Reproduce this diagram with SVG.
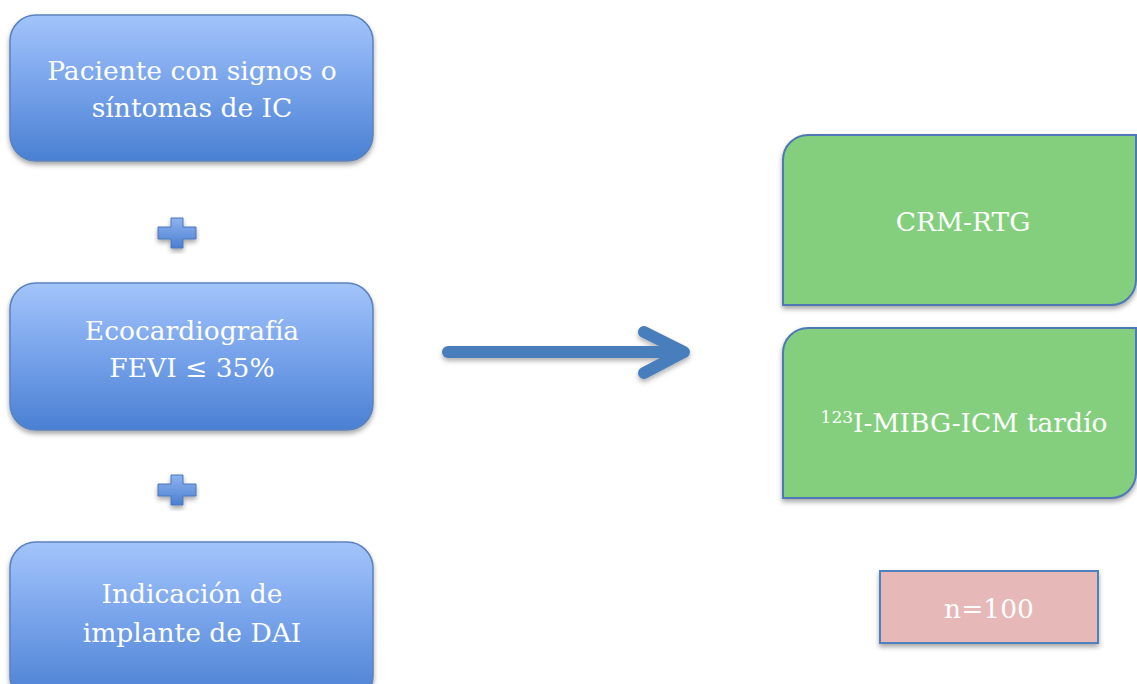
<svg xmlns="http://www.w3.org/2000/svg" width="1137" height="684" viewBox="0 0 1137 684">
<defs>
<linearGradient id="bg" x1="0" y1="0" x2="0" y2="1">
<stop offset="0" stop-color="#a3c4fb"/>
<stop offset="0.5" stop-color="#76a2ea"/>
<stop offset="1" stop-color="#4a80d2"/>
</linearGradient>
<linearGradient id="pg" x1="0" y1="0" x2="0" y2="1">
<stop offset="0" stop-color="#8fb3f0"/>
<stop offset="1" stop-color="#4b7fcf"/>
</linearGradient>
<filter id="sh" x="-10%" y="-10%" width="120%" height="130%">
<feDropShadow dx="0" dy="3" stdDeviation="2.5" flood-color="#000" flood-opacity="0.35"/>
</filter>
<filter id="sha" filterUnits="userSpaceOnUse" x="420" y="310" width="290" height="90">
<feDropShadow dx="0" dy="3" stdDeviation="2.5" flood-color="#000" flood-opacity="0.3"/>
</filter>
</defs>
<style>
.blue{fill:url(#bg);stroke:#5b82bd;stroke-width:1.5;filter:url(#sh)}
.green{fill:#83cf7e;stroke:#4f78b4;stroke-width:2;filter:url(#sh)}
.pink{fill:#e6b8b7;stroke:#4f81bd;stroke-width:2;filter:url(#sh)}
.plus{fill:url(#pg);stroke:#4a77b8;stroke-width:1;filter:url(#sh)}
text{font-family:"DejaVu Serif","Liberation Serif",serif;fill:#fff;text-anchor:middle;font-size:26.5px}
</style>
<rect width="1137" height="684" fill="#fff"/>
<g id="node-paciente">
<rect class="blue" x="10" y="15" width="363" height="146" rx="26"/>
<text x="192" y="80">Paciente con signos o</text>
<text x="192" y="117">síntomas de IC</text>
</g>
<g id="plus-1">
<path class="plus" d="M171,218 h12 v9 h13 v12 h-13 v9 h-12 v-9 h-13 v-12 h13 z"/>
</g>
<g id="node-eco">
<rect class="blue" x="10" y="283" width="363" height="147" rx="26"/>
<text x="192" y="340">Ecocardiografía</text>
<text x="192" y="377">FEVI ≤ 35%</text>
</g>
<g id="plus-2">
<path class="plus" d="M171,475 h12 v9 h13 v12 h-13 v9 h-12 v-9 h-13 v-12 h13 z"/>
</g>
<g id="node-dai">
<rect class="blue" x="10" y="542" width="363" height="160" rx="26"/>
<text x="192" y="603">Indicación de</text>
<text x="192" y="642">implante de DAI</text>
</g>
<g id="connectors">
<g filter="url(#sha)" stroke="#4a7ebd" stroke-width="12" stroke-linecap="round" fill="none">
<line x1="448" y1="352" x2="680" y2="352"/>
<polyline points="644,332 684,352 644,373" stroke-linejoin="round"/>
</g>
</g>
<g id="node-crm">
<path class="green" d="M808,135 H1136 V280 A25,25 0 0 1 1111,305 H783 V160 A25,25 0 0 1 808,135 Z"/>
<text x="963" y="231">CRM-RTG</text>
</g>
<g id="node-mibg">
<path class="green" d="M808,328 H1136 V473 A25,25 0 0 1 1111,498 H783 V353 A25,25 0 0 1 808,328 Z"/>
<text x="964" y="432"><tspan font-size="17" dy="-9">123</tspan><tspan dy="9">I-MIBG-ICM tardío</tspan></text>
</g>
<g id="node-n">
<rect class="pink" x="880" y="571" width="218" height="72"/>
<text x="989" y="618">n=100</text>
</g>
</svg>
